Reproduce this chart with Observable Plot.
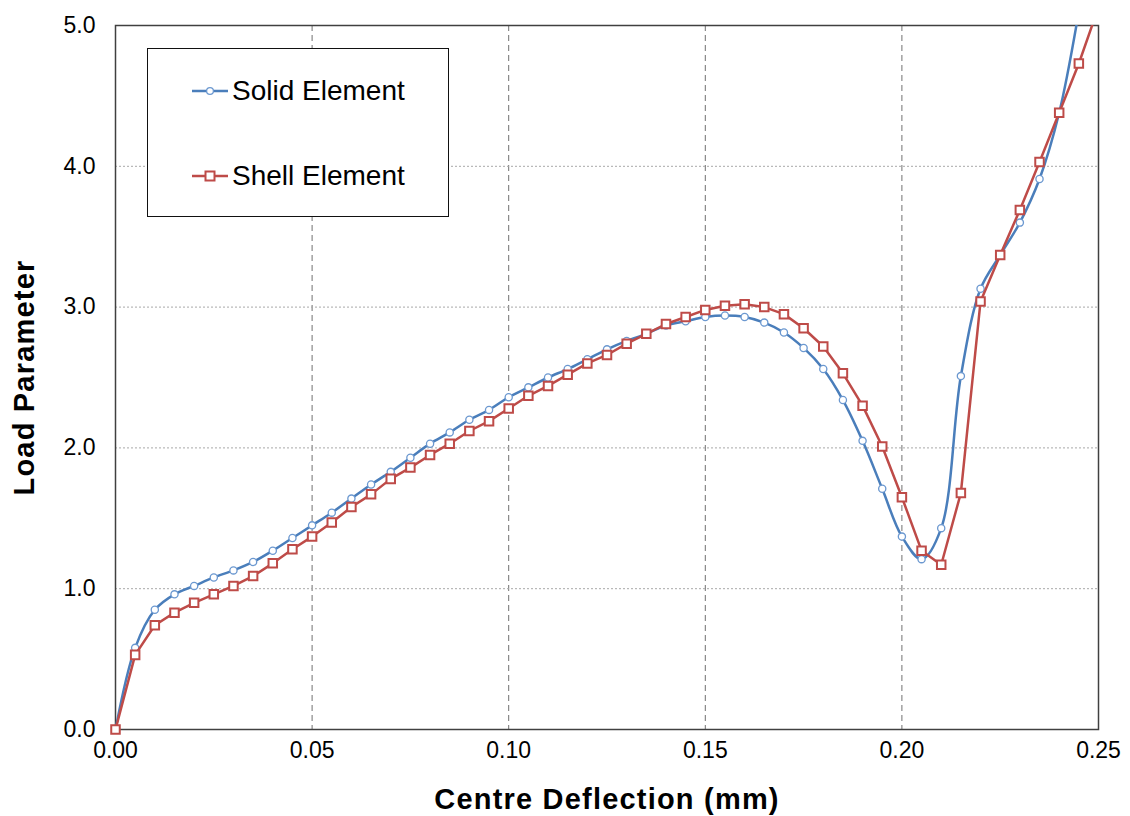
<!DOCTYPE html>
<html>
<head>
<meta charset="utf-8">
<script src="https://cdn.jsdelivr.net/npm/d3@7"></script>
<script src="https://cdn.jsdelivr.net/npm/@observablehq/plot@0.6"></script>
<style>
  html, body { margin: 0; padding: 0; background: #ffffff; }
  #wrap { position: relative; width: 1130px; height: 816px; font-family: "Liberation Sans", Arial, sans-serif; }
  .legend { position: absolute; left: 147px; top: 48px; width: 300px; height: 167px;
            border: 1.5px solid #111; background: #ffffff; }
  .entry { position: absolute; left: 44px; height: 40px; display: flex; align-items: center; }
  .entry svg { display: block; }
  .entry span { font-size: 28px; color: #000; margin-left: 4px; }
</style>
</head>
<body>
<div id="wrap"></div>
<script>
// Centre deflection (mm) at each load step
const deflection = [
  0.000, 0.005, 0.010, 0.015, 0.020, 0.025, 0.030, 0.035, 0.040, 0.045,
  0.050, 0.055, 0.060, 0.065, 0.070, 0.075, 0.080, 0.085, 0.090, 0.095,
  0.100, 0.105, 0.110, 0.115, 0.120, 0.125, 0.130, 0.135, 0.140, 0.145,
  0.150, 0.155, 0.160, 0.165, 0.170, 0.175, 0.180, 0.185, 0.190, 0.195,
  0.200, 0.205, 0.210, 0.215, 0.220, 0.225, 0.230, 0.235, 0.240, 0.245,
  0.250
];

// Load parameter, solid element model (last step runs off the top of the chart)
const solidLoad = [
  0.00, 0.58, 0.85, 0.96, 1.02, 1.08, 1.13, 1.19, 1.27, 1.36,
  1.45, 1.54, 1.64, 1.74, 1.83, 1.93, 2.03, 2.11, 2.20, 2.27,
  2.36, 2.43, 2.50, 2.56, 2.63, 2.70, 2.76, 2.81, 2.87, 2.90,
  2.93, 2.94, 2.93, 2.89, 2.82, 2.71, 2.56, 2.34, 2.05, 1.71,
  1.37, 1.21, 1.43, 2.51, 3.13, 3.37, 3.60, 3.91, 4.38, 5.10
];

// Load parameter, shell element model
const shellLoad = [
  0.00, 0.53, 0.74, 0.83, 0.90, 0.96, 1.02, 1.09, 1.18, 1.28,
  1.37, 1.47, 1.58, 1.67, 1.78, 1.86, 1.95, 2.03, 2.12, 2.19,
  2.28, 2.37, 2.44, 2.52, 2.60, 2.66, 2.74, 2.81, 2.88, 2.93,
  2.98, 3.01, 3.02, 3.00, 2.95, 2.85, 2.72, 2.53, 2.30, 2.01,
  1.65, 1.27, 1.17, 1.68, 3.04, 3.37, 3.69, 4.03, 4.38, 4.73,
  5.13
];

const seriesNames = ["Solid Element", "Shell Element"];
const xTicks = [0, 0.05, 0.10, 0.15, 0.20, 0.25];
const yTicks = [0, 1, 2, 3, 4, 5];
const xTitle = "Centre Deflection (mm)";
const yTitle = "Load Parameter";

const solidColor = "#4A7EBB";
const solidMarker = "#6B98D0";
const shellColor = "#BE4B48";

const solid = solidLoad.map((v, i) => ({x: deflection[i], y: v}));
const shell = shellLoad.map((v, i) => ({x: deflection[i], y: v}));
const yMax = yTicks[yTicks.length - 1];
const visible = (d) => d.y <= yMax;

const chart = Plot.plot({
  width: 1130,
  height: 816,
  marginLeft: 115,
  marginRight: 32,
  marginTop: 25,
  marginBottom: 87,
  style: {fontFamily: "'Liberation Sans', Arial, sans-serif", background: "#ffffff", color: "#000000"},
  x: {domain: [0, 0.25]},
  y: {domain: [0, yMax]},
  marks: [
    Plot.gridX(xTicks.slice(1, -1), {stroke: "#707070", strokeOpacity: 1, strokeWidth: 1, strokeDasharray: "6,4"}),
    Plot.gridY(yTicks.slice(1, -1), {stroke: "#a8a8a8", strokeOpacity: 1, strokeWidth: 1, strokeDasharray: "2,2"}),
    Plot.frame({stroke: "#404040", strokeWidth: 1.5}),
    Plot.axisX(xTicks, {tickSize: 0, tickPadding: 12, fontSize: 23, tickFormat: d3.format(".2f"), label: null}),
    Plot.axisY(yTicks, {tickSize: 0, tickPadding: 20, fontSize: 23, tickFormat: d3.format(".1f"), label: null}),
    Plot.text([xTitle], {text: (d) => d, frameAnchor: "bottom", textAnchor: "middle", lineAnchor: "middle", dy: 70, fontSize: 29, fontWeight: "bold", fill: "#000"}),
    Plot.text([yTitle], {text: (d) => d, frameAnchor: "left", textAnchor: "middle", lineAnchor: "middle", dx: -91, rotate: -90, fontSize: 29, fontWeight: "bold", fill: "#000"}),
    // Solid element series
    Plot.line(solid, {x: "x", y: "y", stroke: solidColor, strokeWidth: 2.5, curve: "catmull-rom", clip: true}),
    Plot.dot(solid, {x: "x", y: "y", filter: visible, r: 3.6, stroke: solidMarker, strokeWidth: 1.3, fill: "#ffffff"}),
    // Shell element series
    Plot.line(shell, {x: "x", y: "y", stroke: shellColor, strokeWidth: 2.5, clip: true}),
    Plot.dot(shell, {x: "x", y: "y", filter: visible, symbol: "square", r: 4.8, stroke: shellColor, strokeWidth: 2, fill: "#ffffff"})
  ]
});

// Slightly open tracking on the axis titles
d3.select(chart).selectAll("g[aria-label='text'] text").attr("letter-spacing", "1.2px");

const wrap = document.getElementById("wrap");
wrap.appendChild(chart);

// Legend box inside the plot area
const legend = document.createElement("div");
legend.className = "legend";
const entries = [
  {name: seriesNames[0], color: solidColor, marker: solidMarker, top: 22, shape: "circle"},
  {name: seriesNames[1], color: shellColor, marker: shellColor, top: 107, shape: "square"}
];
for (const e of entries) {
  const row = document.createElement("div");
  row.className = "entry";
  row.style.top = e.top + "px";
  const m = e.shape === "circle"
    ? `<circle cx="18" cy="10" r="3.4" fill="#fff" stroke="${e.marker}" stroke-width="1.3"/>`
    : `<rect x="13.5" y="5.5" width="9" height="9" fill="#fff" stroke="${e.marker}" stroke-width="2"/>`;
  row.innerHTML = `<svg width="36" height="20"><line x1="0" y1="10" x2="36" y2="10" stroke="${e.color}" stroke-width="2.5"/>${m}</svg><span>${e.name}</span>`;
  legend.appendChild(row);
}
wrap.appendChild(legend);
</script>
</body>
</html>
